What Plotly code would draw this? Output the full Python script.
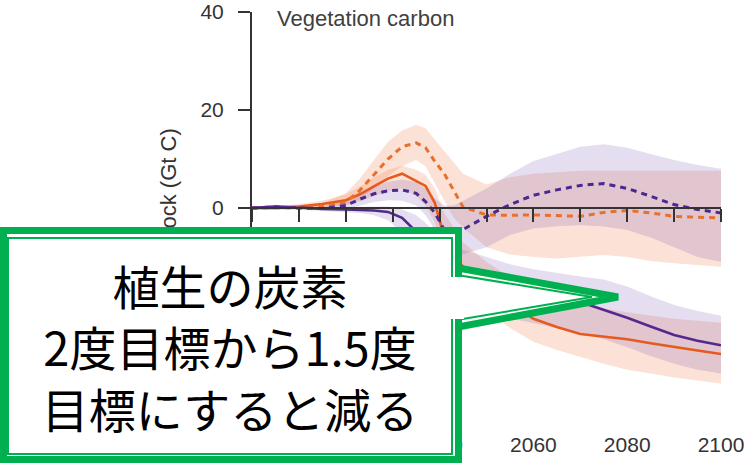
import plotly.graph_objects as go

# ---------------- data ----------------
YEARS = [2000, 2005, 2010, 2015, 2020, 2023, 2026, 2029, 2032, 2035, 2037, 2039, 2041,
         2043, 2045, 2050, 2055, 2060, 2065, 2070, 2075, 2080, 2085, 2090, 2095, 2100]

ORANGE_SOLID = [0, 0, 0.3, 0.8, 1.6, 2.8, 4.4, 6.0, 7.0, 5.6, 4.5, 1.0, -6,
                -9.5, -12, -16, -19.5, -22.6, -24.3, -25.7, -26.2, -26.8, -27.6, -28.4, -29.1, -29.8]
ORANGE_SOLID_HI = [0.3, 0.4, 0.8, 1.5, 2.8, 4.4, 6.2, 7.8, 8.6, 7.8, 6.8, 4.0, -1,
                   -4, -7, -11, -14, -17, -18.5, -19.5, -20.5, -21.3, -22, -22.6, -23, -23.4]
ORANGE_SOLID_LO = [-0.3, -0.4, -0.2, 0.2, 0.6, 1.4, 2.4, 3.4, 4.0, 2.5, 0.5, -3, -9,
                   -13, -16, -21, -24.5, -27.3, -29, -30.4, -31.8, -33, -33.8, -34.6, -35.2, -35.8]

ORANGE_DASH = [0, 0, 0.1, 0.3, 1.2, 3.6, 6.8, 10.0, 12.5, 13.3, 12.3, 9.5, 7.0,
               3.5, 0.2, -1.4, -1.5, -1.4, -1.6, -1.7, -0.9, -0.5, -1.0, -1.7, -1.9, -2.0]
ORANGE_DASH_HI = [0.3, 0.3, 0.5, 1.0, 3.0, 6.0, 9.8, 13.5, 15.8, 17.0, 16.3, 14.0, 11.8,
                  9.5, 7.0, 4.8, 6.3, 7.0, 7.3, 7.6, 7.6, 7.6, 7.6, 7.6, 7.6, 7.6]
ORANGE_DASH_LO = [-0.3, -0.3, -0.2, 0, 0.5, 1.8, 4.0, 6.5, 8.5, 9.8, 8.5, 5.0, 1.5,
                  -2, -4, -8, -9.5, -10, -10.3, -10, -9.6, -10, -10.8, -11.3, -11.7, -12]

PURPLE_SOLID = [0, 0.3, 0.1, -0.2, -0.3, -0.4, -0.5, -0.8, -2.0, -4.8, -7.5, -10, -11.5,
                -12.5, -13.3, -14.8, -16, -17, -18, -19.2, -20.8, -22.4, -24.2, -25.9, -27.1, -28.0]
PURPLE_SOLID_HI = [0.3, 0.6, 0.4, 0.2, 0.2, 0.2, 0.3, 0.3, -0.3, -1.5, -3, -5, -6.5,
                   -7.5, -8.5, -10, -11.5, -12.5, -13.3, -14, -14.6, -16, -18, -19.8, -21, -22]
PURPLE_SOLID_LO = [-0.3, 0, -0.3, -0.6, -0.8, -1, -1.5, -2.5, -5, -9, -12, -14.5, -16.5,
                   -18, -19, -21, -22.5, -23.5, -24.5, -25.5, -26.8, -28.4, -30.2, -31.8, -33, -33.8]

PURPLE_DASH = [0, 0.2, 0, -0.1, 0.5, 1.8, 2.9, 3.5, 3.7, 3.0, 1.3, -1.0, -4.5,
               -6.3, -4.4, -1.7, 0.7, 2.6, 3.7, 4.6, 5.0, 4.0, 2.4, 0.7, -0.3, -1.0]
PURPLE_DASH_HI = [0.3, 0.5, 0.3, 0.3, 1.5, 3.2, 4.5, 5.3, 5.8, 5.3, 4.0, 2.0, 0.5,
                  0.5, 1.5, 4.0, 7.0, 9.6, 11.0, 12.5, 13.0, 12.3, 11.0, 9.8, 8.8, 8.0]
PURPLE_DASH_LO = [-0.3, -0.2, -0.3, -0.4, -0.3, 0.4, 1.2, 1.6, 1.5, 0.5, -1.5, -4.5, -8.5,
                  -10, -9.5, -8, -5.5, -4.2, -3.7, -3.5, -3.8, -4.5, -6, -8, -10, -11]

Y_TICKS = [0, 20, 40]                    # -20 / -40 lie under the callout in the picture
X_LABEL_TICKS = [2040, 2060, 2080, 2100]  # 2000 / 2020 lie under the callout

PANEL_TITLE = "Vegetation carbon"
Y_TITLE = "Change in stock (Gt C)"
CALLOUT_LINES = ["植生の炭素", "2度目標から1.5度", "目標にすると減る"]

# ---------------- styling ----------------
W, H = 744, 464
ORANGE = "#e65a1e"
ORANGE_D = "#e8702e"
PURPLE = "#55288c"
PURPLE_D = "#4a2890"
ORANGE_FILL = "rgba(240,125,70,0.22)"
PURPLE_FILL = "rgba(120,90,180,0.20)"
GREEN = "#00b050"
AX = "#333333"
FONT = "Liberation Sans, Arial, sans-serif"


def px(x):
    return x / W


def py(y):
    return 1 - y / H


fig = go.Figure()


def band(hi, lo, color):
    fig.add_trace(go.Scatter(x=YEARS + YEARS[::-1], y=hi + lo[::-1], fill="toself",
                             fillcolor=color, line=dict(width=0), mode="lines",
                             hoverinfo="skip"))


band(ORANGE_DASH_HI, ORANGE_DASH_LO, ORANGE_FILL)
band(ORANGE_SOLID_HI, ORANGE_SOLID_LO, ORANGE_FILL)
band(PURPLE_DASH_HI, PURPLE_DASH_LO, PURPLE_FILL)
band(PURPLE_SOLID_HI, PURPLE_SOLID_LO, PURPLE_FILL)

fig.add_trace(go.Scatter(x=YEARS, y=ORANGE_SOLID, mode="lines",
                         line=dict(color=ORANGE, width=2.6)))
fig.add_trace(go.Scatter(x=YEARS, y=PURPLE_SOLID, mode="lines",
                         line=dict(color=PURPLE, width=2.6)))
fig.add_trace(go.Scatter(x=YEARS, y=ORANGE_DASH, mode="lines",
                         line=dict(color=ORANGE_D, width=3, dash="6px,5px")))
fig.add_trace(go.Scatter(x=YEARS, y=PURPLE_DASH, mode="lines", xaxis="x2",
                         line=dict(color=PURPLE_D, width=3, dash="6px,5px")))

# ---------------- callout pointer (shapes) ----------------
def path(points, close=False):
    s = "M " + " L ".join(f"{px(x):.5f},{py(y):.5f}" for x, y in points)
    return s + (" Z" if close else "")


shapes = [
    dict(type="path", xref="paper", yref="paper", layer="above",
         path=path([(452, 266), (619, 297), (452, 331)], close=True),
         fillcolor="white", line=dict(width=0)),
    dict(type="path", xref="paper", yref="paper", layer="above",
         path=path([(458, 268), (618, 297), (458, 327)]),
         line=dict(color=GREEN, width=7)),
    dict(type="path", xref="paper", yref="paper", layer="above",
         path=path([(451, 274), (592, 297), (451, 321)]),
         line=dict(color=GREEN, width=2)),
]

annotations = [
    dict(text=PANEL_TITLE, xref="paper", yref="paper", x=px(275), y=py(18),
         xanchor="left", yanchor="middle", showarrow=False,
         font=dict(family=FONT, size=22, color="#404040")),
    dict(text=Y_TITLE, xref="paper", yref="paper", x=px(168), y=py(126),
         xanchor="center", yanchor="top", textangle=-90, showarrow=False,
         font=dict(family=FONT, size=22, color=AX)),
    # outer thick frame of the callout (white box)
    dict(text=" ", xref="paper", yref="paper", x=px(231), y=py(345),
         xanchor="center", yanchor="middle", showarrow=False,
         width=448, height=222, borderpad=0, borderwidth=7,
         bordercolor=GREEN, bgcolor="white", font=dict(size=2)),
    # inner thin frame holding the callout text
    dict(text="<br>".join(CALLOUT_LINES), xref="paper", yref="paper", x=px(230), y=py(346),
         xanchor="center", yanchor="middle", showarrow=False,
         width=442, height=214, borderpad=0, borderwidth=2,
         bordercolor=GREEN, bgcolor="rgba(0,0,0,0)", align="center", valign="middle",
         font=dict(family="Noto Sans CJK JP", size=47, color="black")),
    # opening of the frame where the pointer leaves the box
    dict(text=" ", xref="paper", yref="paper", x=px(456), y=py(297.5),
         xanchor="center", yanchor="middle", showarrow=False,
         width=16, height=42, borderpad=0, borderwidth=0,
         bgcolor="white", font=dict(size=2)),
]

fig.update_layout(
    width=W, height=H, margin=dict(l=0, r=0, t=0, b=0, autoexpand=False),
    paper_bgcolor="white", plot_bgcolor="rgba(0,0,0,0)", showlegend=False,
    xaxis=dict(domain=[px(252), px(721)], range=[2000, 2100], tickvals=X_LABEL_TICKS,
               showline=False, ticks="outside", ticklen=22, tickcolor="rgba(0,0,0,0)",
               showgrid=False, zeroline=False, automargin=False,
               ticklabeloverflow="allow",
               tickfont=dict(family=FONT, size=21, color=AX)),
    xaxis2=dict(overlaying="x", anchor="free", position=py(208), side="bottom",
                range=[2000, 2100], tick0=2000, dtick=10, showline=True, linecolor=AX,
                linewidth=2, ticks="outside", ticklen=13, tickwidth=2, tickcolor=AX,
                showticklabels=False, showgrid=False, zeroline=False, automargin=False),
    yaxis=dict(domain=[py(404), py(12)], range=[-40, 40], tickvals=Y_TICKS,
               showline=True, linecolor=AX, linewidth=2, ticks="outside", ticklen=12,
               tickwidth=2, tickcolor=AX, showgrid=False, zeroline=False,
               ticklabelstandoff=10, automargin=False,
               tickfont=dict(family=FONT, size=21, color=AX)),
    shapes=shapes, annotations=annotations,
)

fig.write_html("out.html", config={"displayModeBar": False},
               post_script="document.body.style.margin='0';"
                           "document.body.style.overflow='hidden';")
